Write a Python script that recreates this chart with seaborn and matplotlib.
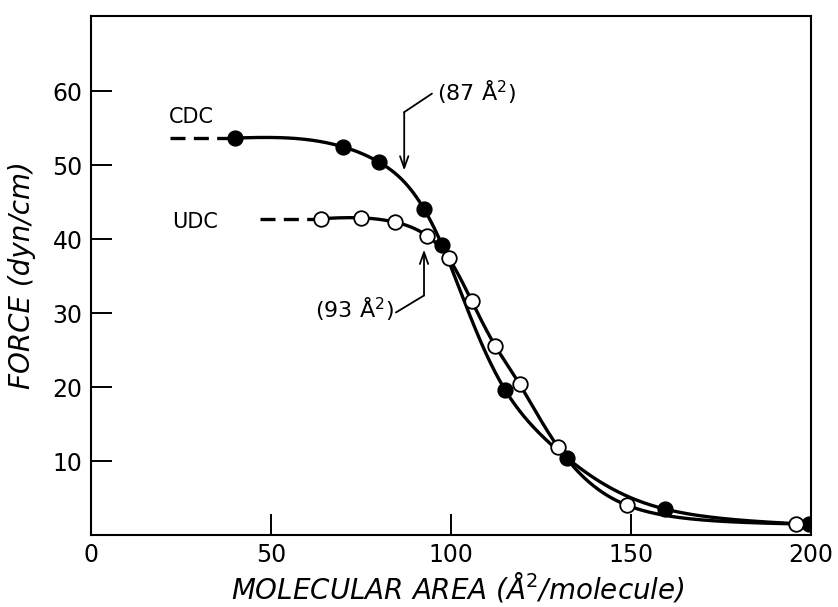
import numpy as np
import pandas as pd
import matplotlib
matplotlib.use("Agg")
import matplotlib.pyplot as plt
import seaborn as sns

# Surface pressure isotherms (force vs. molecular area)
cdc_area = [40, 70, 80, 92.5, 97.6, 115, 132.3, 159.5, 199.5]
cdc_force = [53.7, 52.5, 50.4, 44.1, 39.2, 19.6, 10.4, 3.5, 1.45]

udc_area = [64, 75, 84.4, 93.4, 99.5, 105.8, 112.2, 119.2, 129.8, 149, 195.7]
udc_force = [42.8, 42.9, 42.3, 40.4, 37.5, 31.6, 25.5, 20.4, 11.85, 4.0, 1.5]

# dashed extrapolation toward small areas (start area, plateau force)
cdc_dash = ([22, 40], [53.7, 53.7])
udc_dash = ([47, 64], [42.8, 42.8])

x_ticks = [0, 50, 100, 150, 200]
y_ticks = [10, 20, 30, 40, 50, 60]


def smooth_curve(x, y, mu=8.0, step=0.25):
    """Penalised (Whittaker) smoothing of log(force) through the points."""
    x = np.asarray(x, float)
    y = np.log(np.asarray(y, float))
    n = int(round((x[-1] - x[0]) / step)) + 1
    grid = np.linspace(x[0], x[-1], n)
    h = grid[1] - grid[0]
    # each measurement pulls the curve linearly at its two neighbouring nodes
    B = np.zeros((len(x), n))
    for i, xi in enumerate(x):
        j = min(int((xi - grid[0]) / h), n - 2)
        t = (xi - grid[j]) / h
        B[i, j] = 1 - t
        B[i, j + 1] = t
    D = np.diff(np.eye(n), 2, axis=0) / h**2
    lam = mu * h
    z = np.linalg.solve(B.T @ B + lam * D.T @ D, B.T @ y)
    return grid, np.exp(z)


sns.set_theme(style="ticks")
plt.rcParams["font.family"] = ["DejaVu Sans"]
plt.rcParams["mathtext.fontset"] = "dejavusans"
plt.rcParams["text.color"] = "black"
plt.rcParams["axes.labelcolor"] = "black"

fig = plt.figure(figsize=(8.38, 6.07), dpi=100)
ax = fig.add_axes([0.1086, 0.1186, 0.8592, 0.855])

lw = 2.4
for xs, ys in (smooth_curve(cdc_area, cdc_force),
               smooth_curve(udc_area, udc_force)):
    sns.lineplot(x=xs, y=ys, ax=ax, color="black", lw=lw, sort=False,
                 estimator=None, zorder=2)

for dx, dy in (cdc_dash, udc_dash):
    sns.lineplot(x=dx, y=dy, ax=ax, color="black", lw=lw, sort=False,
                 estimator=None, zorder=2)
    ax.lines[-1].set_linestyle((0, (4.5, 2.5)))

cdc_df = pd.DataFrame({"area": cdc_area, "force": cdc_force})
udc_df = pd.DataFrame({"area": udc_area, "force": udc_force})
sns.scatterplot(data=cdc_df, x="area", y="force", ax=ax, s=110,
                color="black", edgecolor="black", linewidth=1.2, zorder=3)
sns.scatterplot(data=udc_df, x="area", y="force", ax=ax, s=110,
                color="white", edgecolor="black", linewidth=1.3, zorder=3)

ax.set_xlim(0, 200)
ax.set_ylim(0, 70.2)
ax.set_xticks(x_ticks)
ax.set_yticks(y_ticks)
ax.tick_params(direction="in", length=15, width=1.4, labelsize=17, pad=6,
               color="black", labelcolor="black")
for sp in ax.spines.values():
    sp.set_linewidth(1.5)
    sp.set_color("black")

ax.set_xlabel("MOLECULAR AREA (Å$^{2}$/molecule)", fontsize=20,
              style="italic")
ax.set_ylabel("FORCE (dyn/cm)", fontsize=20, style="italic")
ax.xaxis.set_label_coords(0.51, -0.068)
ax.yaxis.set_label_coords(-0.077, 0.5)

# series names
ax.text(27.8, 56.5, "CDC", fontsize=15, ha="center", va="center")
ax.text(28.8, 42.3, "UDC", fontsize=15, ha="center", va="center")

# transition-area callouts
arrow = dict(arrowstyle="->,head_length=0.7,head_width=0.25",
             color="black", lw=1.3, shrinkA=0, shrinkB=0)
ax.plot([94.7, 87], [59.7, 57.2], color="black", lw=1.3)
ax.annotate("", xy=(87, 49.3), xytext=(87, 57.2), arrowprops=arrow)
ax.text(96.0, 59.9, "(87 Å$^{2}$)", fontsize=16, ha="left", va="center")

ax.plot([84.7, 92.5], [30.1, 32.4], color="black", lw=1.3)
ax.annotate("", xy=(92.5, 38.6), xytext=(92.5, 32.4), arrowprops=arrow)
ax.text(84.0, 30.6, "(93 Å$^{2}$)", fontsize=16, ha="right", va="center")

fig.savefig("out.png", dpi=100)
